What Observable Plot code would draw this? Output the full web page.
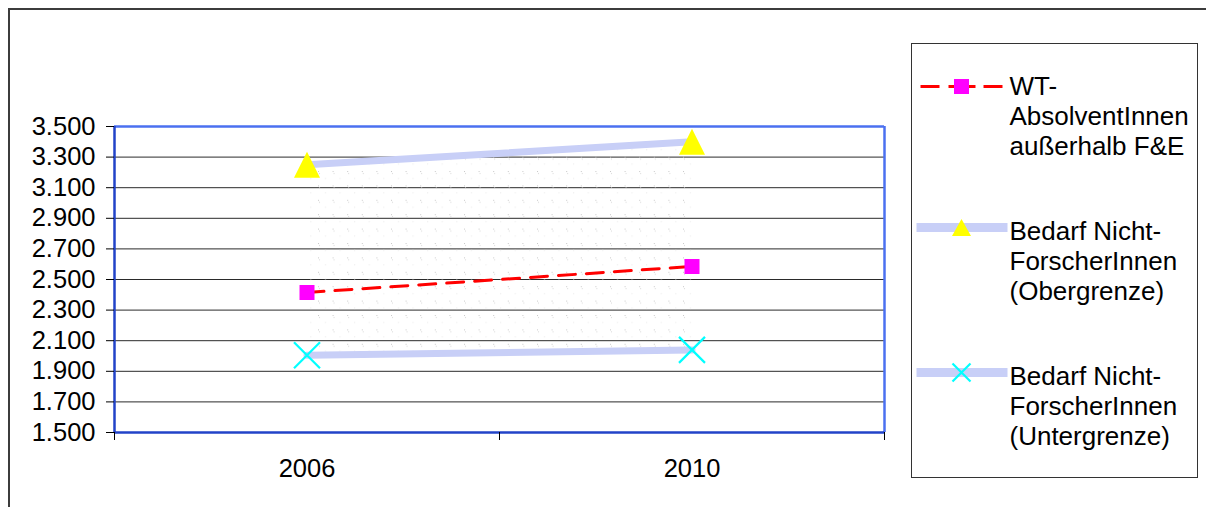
<!DOCTYPE html>
<html>
<head>
<meta charset="utf-8">
<script src="https://cdn.jsdelivr.net/npm/d3@7"></script>
<script src="https://cdn.jsdelivr.net/npm/@observablehq/plot@0.6"></script>
<style>
  html, body { margin: 0; padding: 0; background: #fff; }
  #chart { position: relative; width: 1206px; height: 507px; overflow: hidden;
           font-family: "Liberation Sans", Arial, sans-serif; }
  #chart > svg { position: absolute; left: 0; top: 0; }
  #frame { position: absolute; left: 8px; top: 8px; width: 1300px; height: 600px;
           border-top: 2px solid #3c3c3c; border-left: 2px solid #3c3c3c; }
  #legend { position: absolute; left: 911px; top: 43px; width: 287px; height: 435px;
            box-sizing: border-box; border: 1.5px solid #333; background: #fff; }
  #legend svg { position: absolute; left: 0; top: 0; }
  #legend .label { position: absolute; left: 97.5px; font-size: 26px; line-height: 30px;
                   color: #000; white-space: pre; }
</style>
</head>
<body>
<div id="chart"><div id="frame"></div></div>
<script>
// Jahre (Kategorien) und Werte der drei Reihen
const years = [2006, 2010];
const wtAbsolventen = [2415, 2585];   // WT-AbsolventInnen außerhalb F&E
const bedarfOber = [3250, 3400];      // Bedarf Nicht-ForscherInnen (Obergrenze)
const bedarfUnter = [2005, 2040];     // Bedarf Nicht-ForscherInnen (Untergrenze)

// Achsenbeschriftung
const yTicks = [1500, 1700, 1900, 2100, 2300, 2500, 2700, 2900, 3100, 3300, 3500];
const xBounds = [2004, 2008, 2012];   // Kategoriegrenzen (Teilstriche ohne Text)
const seriesLabels = [
  "WT-\nAbsolventInnen\naußerhalb F&E",
  "Bedarf Nicht-\nForscherInnen\n(Obergrenze)",
  "Bedarf Nicht-\nForscherInnen\n(Untergrenze)"
];

const rows = years.map((year, i) => ({
  year, wt: wtAbsolventen[i], ober: bedarfOber[i], unter: bedarfUnter[i]
}));

// Deutsche Tausendertrennung: 3500 -> "3.500"
const fmt = d3.formatLocale({decimal: ",", thousands: ".", grouping: [3], currency: ["", " €"]}).format(",d");

// Marker im Stil der Tabellenkalkulation (Kantenlänge = r * sqrt(pi))
const triangle = {draw(ctx, size) { const s = Math.sqrt(size);
  ctx.moveTo(0, -s / 2); ctx.lineTo(s / 2, s / 2); ctx.lineTo(-s / 2, s / 2); ctx.closePath(); }};
const square = {draw(ctx, size) { const s = Math.sqrt(size); ctx.rect(-s / 2, -s / 2, s, s); }};
const cross = {draw(ctx, size) { const h = Math.sqrt(size) / 2;
  ctx.moveTo(-h, -h); ctx.lineTo(h, h); ctx.moveTo(h, -h); ctx.lineTo(-h, h); }};
const rFor = (px) => px / Math.sqrt(Math.PI);

const bandColor = "#c8cff7";
const lightBlue = "#4b70f0";
const darkBlue = "#2243c8";

const chart = Plot.plot({
  width: 1206,
  height: 507,
  marginLeft: 114,
  marginRight: 322,
  marginTop: 126,
  marginBottom: 75,
  x: {type: "linear", domain: [2004, 2012], label: null},
  y: {domain: [1500, 3500], label: null},
  style: {fontFamily: "'Liberation Sans', Arial, sans-serif", fontSize: "25.5px", color: "#000",
          background: "transparent", overflow: "visible"},
  marks: [
    Plot.ruleY(yTicks.slice(1, -1), {stroke: "#2a2a2a", strokeWidth: 1}),
    Plot.areaY(rows, {x: "year", y1: "unter", y2: "ober", fill: "url(#dots)"}),
    Plot.line(rows, {x: "year", y: "ober", stroke: bandColor, strokeWidth: 7}),
    Plot.line(rows, {x: "year", y: "unter", stroke: bandColor, strokeWidth: 7}),
    Plot.line(rows, {x: "year", y: "wt", stroke: "#ff0000", strokeWidth: 3, strokeDasharray: "17,11"}),
    Plot.ruleY([3500], {stroke: lightBlue, strokeWidth: 2.5}),
    Plot.ruleX([2012], {stroke: lightBlue, strokeWidth: 2.5}),
    Plot.ruleX([2004], {stroke: darkBlue, strokeWidth: 2.5}),
    Plot.ruleY([1500], {stroke: darkBlue, strokeWidth: 2.5}),
    Plot.axisY(yTicks, {tickSize: 8, tickPadding: 11, tickFormat: fmt, stroke: "#000"}),
    Plot.axisX(xBounds, {tickSize: 8, tickFormat: () => "", stroke: "#000"}),
    Plot.axisX(years, {tickSize: 0, tickPadding: 26, tickFormat: (d) => String(d)}),
    Plot.dot(rows, {x: "year", y: "ober", symbol: triangle, r: rFor(26), fill: "#ffff00", stroke: "none"}),
    Plot.dot(rows, {x: "year", y: "wt", symbol: square, r: rFor(15), fill: "#ff00ff", stroke: "none"}),
    Plot.dot(rows, {x: "year", y: "unter", symbol: cross, r: rFor(26), fill: "none", stroke: "#00ffff", strokeWidth: 2.2})
  ]
});

// Punktraster für die Fläche zwischen Ober- und Untergrenze
const defs = d3.select(chart).insert("defs", ":first-child");
const pat = defs.append("pattern").attr("id", "dots").attr("patternUnits", "userSpaceOnUse")
  .attr("x", 318).attr("y", 171).attr("width", 14.6).attr("height", 14.4);
pat.append("rect").attr("x", 0).attr("y", 0).attr("width", 1).attr("height", 1).attr("fill", "#c8c8c8");
pat.append("rect").attr("x", -1).attr("y", 2).attr("width", 1).attr("height", 1).attr("fill", "#d6d6d6");
pat.append("rect").attr("x", 1).attr("y", 2).attr("width", 1).attr("height", 1).attr("fill", "#d6d6d6");
pat.append("rect").attr("x", 7).attr("y", 7).attr("width", 1).attr("height", 1).attr("fill", "#e6e6e6");

const root = document.getElementById("chart");
root.insertBefore(chart, root.firstChild);

// Legende rechts
const legend = d3.select(root).append("div").attr("id", "legend");
const textTops = [26.5, 171.5, 316.5];
const symbolOffsets = [16, 12, 12];
const sw = legend.append("svg").attr("width", 100).attr("height", 432);
const cx = 49.5;

seriesLabels.forEach((label, i) => {
  legend.append("div").attr("class", "label").style("top", textTops[i] + "px").text(label);
  const cy = textTops[i] + symbolOffsets[i];
  const g = sw.append("g").attr("transform", `translate(0,${cy})`);
  if (i === 0) {
    [[8.5, 27.5], [36.5, 43], [56, 63.5], [71.5, 90.5]].forEach(([a, b]) =>
      g.append("line").attr("x1", a).attr("x2", b).attr("stroke", "#ff0000").attr("stroke-width", 3));
    g.append("rect").attr("x", cx - 7.5).attr("y", -7.5).attr("width", 15).attr("height", 15).attr("fill", "#ff00ff");
  } else {
    g.append("line").attr("x1", 4.5).attr("x2", 95.5).attr("stroke", bandColor).attr("stroke-width", 9);
    if (i === 1) {
      g.append("path").attr("d", `M${cx},-8.5L${cx + 9.5},8.5L${cx - 9.5},8.5Z`).attr("fill", "#ffff00");
    } else {
      g.append("path").attr("d", `M${cx - 9},-9L${cx + 9},9M${cx + 9},-9L${cx - 9},9`)
        .attr("stroke", "#00ffff").attr("stroke-width", 2.2).attr("fill", "none");
    }
  }
});
</script>
</body>
</html>
